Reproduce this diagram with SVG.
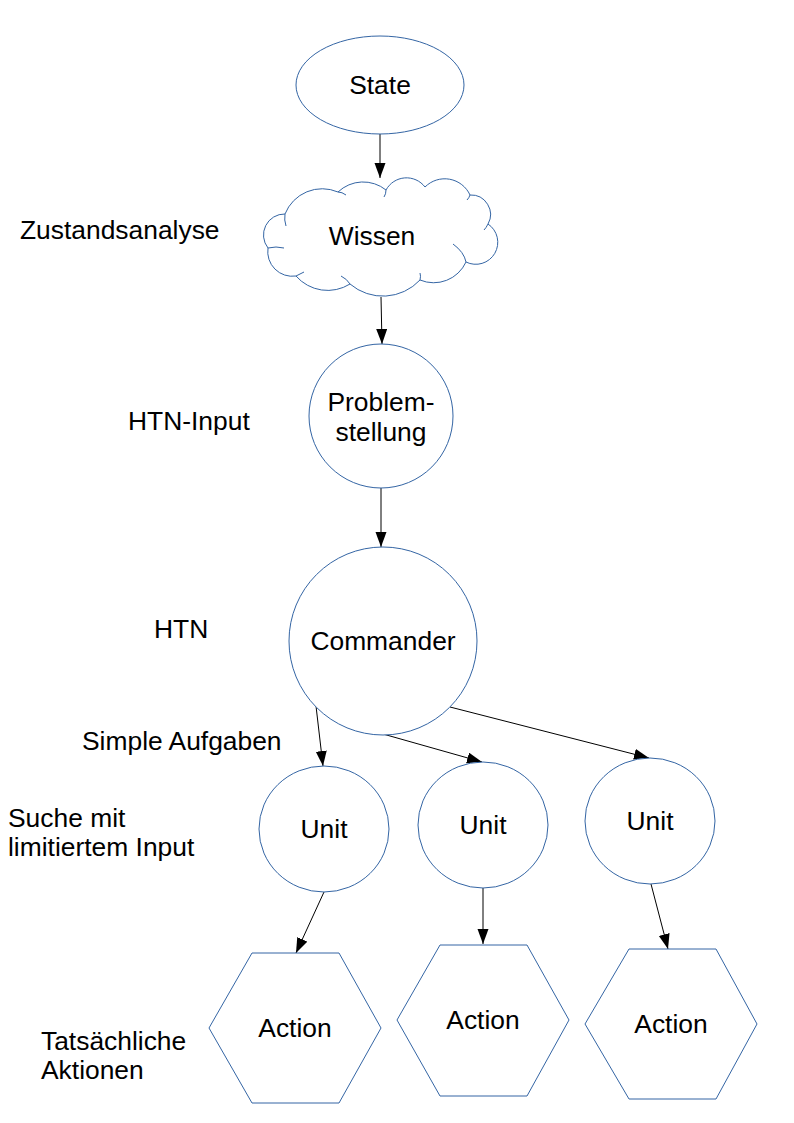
<svg xmlns="http://www.w3.org/2000/svg" width="794" height="1123" viewBox="0 0 794 1123">
<defs>
<marker id="ah" markerWidth="16" markerHeight="12" refX="15" refY="5.5" orient="auto" markerUnits="userSpaceOnUse">
<path d="M0,0 L15,5.5 L0,11 Z" fill="#000"/>
</marker>
<style>
.n{fill:#fff;stroke:#3465a4;stroke-width:1}
.in{fill:none;stroke:#3465a4;stroke-width:1}
.t{font-family:"Liberation Sans",Arial,sans-serif;font-size:26.4px;fill:#000}
.c{text-anchor:middle}
.e{stroke:#000;stroke-width:1;fill:none;marker-end:url(#ah)}
</style>
</defs>
<rect width="794" height="1123" fill="#fff"/>
<g id="connectors">
<line class="e" x1="380" y1="134" x2="380" y2="178"/>
<line class="e" x1="381" y1="297" x2="382" y2="344"/>
<line class="e" x1="381" y1="488" x2="381" y2="547"/>
<line class="e" x1="316" y1="706" x2="323" y2="766"/>
<line class="e" x1="383" y1="734" x2="482" y2="762"/>
<line class="e" x1="450" y1="707" x2="649" y2="758"/>
<line class="e" x1="324" y1="892" x2="296" y2="953"/>
<line class="e" x1="483" y1="888" x2="483" y2="944"/>
<line class="e" x1="651" y1="884" x2="668" y2="949"/>
</g>
<g id="state"><ellipse class="n" cx="380" cy="85" rx="84" ry="49"/><text class="t c" x="380" y="94">State</text></g>
<g id="wissen">
<path class="n" d="M268,248 A21,21 0 0 1 285,214 A40,40 0 0 1 338,192 A36.5,36.5 0 0 1 386,190 A23.3,23.3 0 0 1 425,187 A27.8,27.8 0 0 1 470,195 A19.5,19.5 0 0 1 488,224 A22,22 0 0 1 466,262 A35.5,35.5 0 0 1 420,280 A50.7,50.7 0 0 1 350,284 A42,42 0 0 1 296,276 A24.6,24.6 0 0 1 268,248 Z"/>
<path class="in" d="M268,248 q8,-2 16,0 M285,214 q-1,6 1,12 M338,192 q4,0 8,3 M386,190 q0,4 -2,7 M470,195 q-1,3 -3,5 M488,224 q-2,4 -4,6 M466,262 q-2,-10 -13,-18 M420,280 q1,-4 0,-7 M350,284 q-3,-5 -9,-8 M296,276 q4,-2 8,-4"/>
<text class="t c" x="372" y="245">Wissen</text></g>
<g id="problem"><circle class="n" cx="381" cy="416" r="72"/><text class="t c" x="381" y="411">Problem-</text><text class="t c" x="381" y="441">stellung</text></g>
<g id="commander"><circle class="n" cx="383" cy="641" r="94"/><text class="t c" x="383" y="650">Commander</text></g>
<g id="unit1"><ellipse class="n" cx="324" cy="829" rx="65" ry="63"/><text class="t c" x="324" y="838">Unit</text></g>
<g id="unit2"><ellipse class="n" cx="483" cy="825" rx="65" ry="63"/><text class="t c" x="483" y="834">Unit</text></g>
<g id="unit3"><ellipse class="n" cx="650" cy="821" rx="65" ry="63"/><text class="t c" x="650" y="830">Unit</text></g>
<g id="action1"><polygon class="n" points="209,1028 252,953 339,953 381,1028 339,1103 252,1103"/><text class="t c" x="295" y="1037">Action</text></g>
<g id="action2"><polygon class="n" points="397,1020 440,945 527,945 569,1020 527,1096 440,1096"/><text class="t c" x="483" y="1029">Action</text></g>
<g id="action3"><polygon class="n" points="585,1024 629,949 716,949 757,1024 716,1099 629,1099"/><text class="t c" x="671" y="1033">Action</text></g>
<g id="labels">
<text class="t" x="20" y="239">Zustandsanalyse</text>
<text class="t" x="128" y="430">HTN-Input</text>
<text class="t" x="154" y="638">HTN</text>
<text class="t" x="82" y="750">Simple Aufgaben</text>
<text class="t" x="8" y="827">Suche mit</text>
<text class="t" x="8" y="856">limitiertem Input</text>
<text class="t" x="41" y="1050">Tatsächliche</text>
<text class="t" x="41" y="1079">Aktionen</text>
</g>
</svg>
